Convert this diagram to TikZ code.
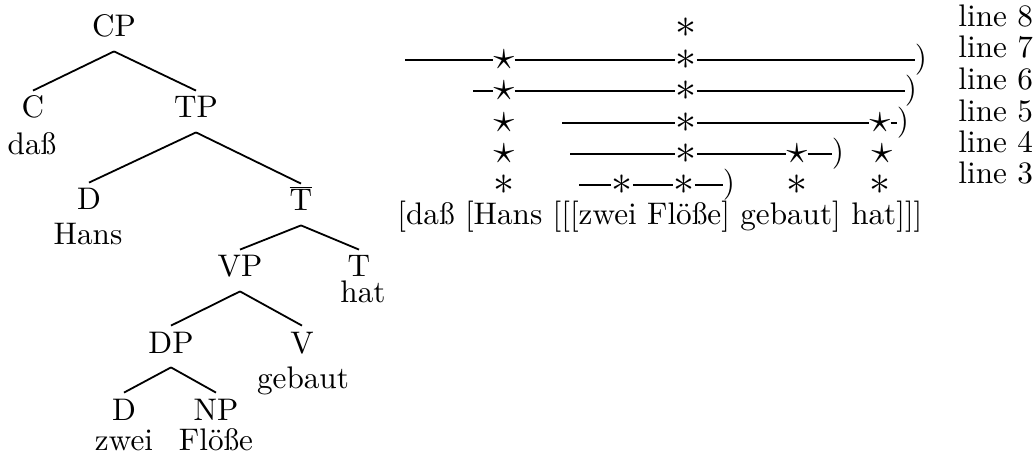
\RequirePackage{fix-cm}
\documentclass[tikz,border=0pt]{standalone}
\usepackage{fontspec}
\setmainfont{lmroman10-regular}[Extension=.otf]
\begin{document}
\begin{tikzpicture}[x=0.5pt,y=-0.5pt,
  every node/.style={font=\fontsize{15.6pt}{18pt}\selectfont},
  cat/.style={inner sep=0pt,text height=13.5pt,text depth=0pt,anchor=base},
  word/.style={inner sep=0pt,anchor=base},
  mk/.style={inner sep=0pt,font=\fontsize{21pt}{24pt}\selectfont},
  par/.style={inner sep=0pt},
  lbl/.style={inner sep=0pt,anchor=base west},
  edge/.style={line width=0.9pt},
  rule/.style={line width=0.6pt}]
\useasboundingbox (0,0) rectangle (1036,459);
% ---- tree ----
\node[cat] (CP) at (114,37) {CP};
\node[cat] (C) at (33,118) {C};
\node[cat] (TP) at (196,118) {TP};
\node[word] (dass) at (32,155) {daß};
\node[cat] (D1) at (89,210) {D};
\node[cat] (Tb) at (301,211) {$\overline{\mathrm{T}}$};
\node[word] (Hans) at (88,245) {Hans};
\node[cat] (VP) at (240,277) {VP};
\node[cat] (T) at (359,277) {T};
\node[word] (hat) at (363,302) {hat};
\node[cat] (DP) at (171,353) {DP};
\node[cat] (V) at (302,353) {V};
\node[word] (gebaut) at (303,388) {gebaut};
\node[cat] (D2) at (124,420) {D};
\node[cat] (NP) at (216,420) {NP};
\node[word] (zwei) at (124,450) {zwei};
\node[word] (Floesse) at (216,450) {Flöße};
\draw[edge] ([yshift=-7pt]CP.south) -- (C.north);
\draw[edge] ([yshift=-7pt]CP.south) -- (TP.north);
\draw[edge] ([yshift=-7pt]TP.south) -- (D1.north);
\draw[edge] ([yshift=-7pt]TP.south) -- (Tb.north);
\draw[edge] ([yshift=-7pt]Tb.south) -- (VP.north);
\draw[edge] ([yshift=-7pt]Tb.south) -- (T.north);
\draw[edge] ([yshift=-7pt]VP.south) -- (DP.north);
\draw[edge] ([yshift=-7pt]VP.south) -- (V.north);
\draw[edge] ([yshift=-7pt]DP.south) -- (D2.north);
\draw[edge] ([yshift=-7pt]DP.south) -- (NP.north);
% ---- grid ----
% line 8
\node[mk] (r8c) at (686,28) {$\ast$};
% line 7
\coordinate (r7s) at (405,60);
\node[mk] (r7a) at (504,60) {$\star$};
\node[mk] (r7c) at (686,60) {$\ast$};
\node[par] (r7p) at (921,60) {)};
\draw[rule] (r7s) -- (r7a) -- (r7c) -- (r7p);
% line 6
\coordinate (r6s) at (473,91);
\node[mk] (r6a) at (504,91) {$\star$};
\node[mk] (r6c) at (686,91) {$\ast$};
\node[par] (r6p) at (911,91) {)};
\draw[rule] (r6s) -- (r6a) -- (r6c) -- (r6p);
% line 5
\node[mk] (r5a) at (504,123) {$\star$};
\coordinate (r5s) at (562,123);
\node[mk] (r5c) at (686,123) {$\ast$};
\node[mk] (r5e) at (880,123) {$\star$};
\node[par] (r5p) at (903,123) {)};
\draw[rule] (r5s) -- (r5c) -- (r5e) -- (r5p);
% line 4
\node[mk] (r4a) at (504,154) {$\star$};
\coordinate (r4s) at (570,154);
\node[mk] (r4c) at (686,154) {$\ast$};
\node[mk] (r4d) at (797,154) {$\star$};
\node[par] (r4p) at (838,154) {)};
\node[mk] (r4e) at (882,154) {$\star$};
\draw[rule] (r4s) -- (r4c) -- (r4d) -- (r4p);
% line 3
\node[mk] (r3a) at (504,185) {$\ast$};
\coordinate (r3s) at (579,185);
\node[mk] (r3b) at (622,185) {$\ast$};
\node[mk] (r3c) at (684,185) {$\ast$};
\node[par] (r3p) at (729,185) {)};
\node[mk] (r3d) at (797,185) {$\ast$};
\node[mk] (r3e) at (880,185) {$\ast$};
\draw[rule] (r3s) -- (r3b) -- (r3c) -- (r3p);
% sentence
\node[lbl] (sent) at (397,225) {[daß [Hans [[[zwei Flöße] gebaut] hat]]]};
% labels
\node[lbl] (l8) at (958,27) {line 8};
\node[lbl] (l7) at (958,58) {line 7};
\node[lbl] (l6) at (958,90) {line 6};
\node[lbl] (l5) at (958,122) {line 5};
\node[lbl] (l4) at (958,153) {line 4};
\node[lbl] (l3) at (958,184) {line 3};
\end{tikzpicture}
\end{document}
